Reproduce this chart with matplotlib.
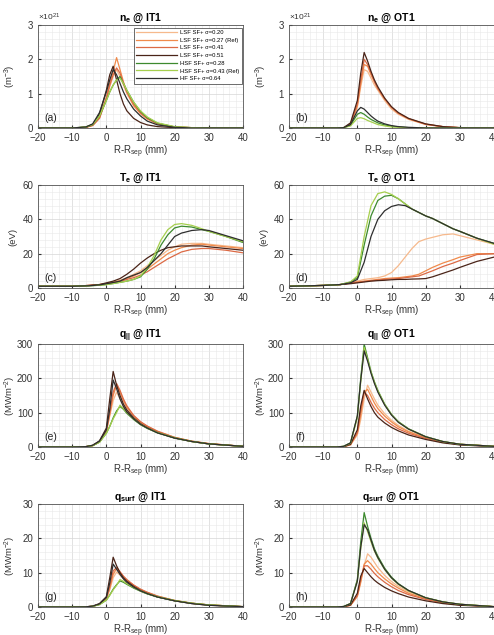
import matplotlib
matplotlib.use("Agg")
import matplotlib.pyplot as plt
from matplotlib.ticker import MultipleLocator

plt.rcParams['font.family'] = ['Liberation Sans', 'DejaVu Sans']
plt.rcParams['mathtext.fontset'] = 'custom'
plt.rcParams['mathtext.rm'] = 'Liberation Sans'
plt.rcParams['mathtext.it'] = 'Liberation Sans:italic'
plt.rcParams['mathtext.bf'] = 'Liberation Sans:bold'

# radial coordinate grids (mm)
x_peak = [-20, -10, -6, -4, -2, 0, 1, 2, 3, 4, 5, 6, 8, 10, 12, 15, 20, 25, 30, 40]
x_temp = [-20, -10, -5, -2, 0, 2, 4, 6, 8, 10, 12, 14, 16, 18, 20, 22, 25, 28, 30, 35, 40]

cases = ['LSF SF+ σ=0.20', 'LSF SF+ σ=0.27 (Ref)', 'LSF SF+ σ=0.41', 'LSF SF+ σ=0.51',
         'HSF SF+ σ=0.28', 'HSF SF+ σ=0.43 (Ref)', 'HF SF+ σ=0.64']
colors = ['#f6b98c', '#f08a4b', '#dc6a45', '#4a2418', '#3d8a2e', '#a6cf4e', '#2e2e2e']

# n_e (1e21 m^-3)
ne_it1 = [
    [0, 0, 0.02, 0.08, 0.30, 0.85, 1.20, 1.50, 1.70, 1.50, 1.25, 1.00, 0.65, 0.42, 0.27, 0.12, 0.03, 0.01, 0, 0],
    [0, 0, 0.02, 0.08, 0.30, 0.90, 1.30, 1.65, 2.05, 1.70, 1.35, 1.05, 0.65, 0.42, 0.26, 0.12, 0.03, 0.01, 0, 0],
    [0, 0, 0.02, 0.07, 0.28, 0.85, 1.25, 1.55, 1.75, 1.60, 1.30, 1.05, 0.70, 0.45, 0.28, 0.13, 0.03, 0.01, 0, 0],
    [0, 0, 0.02, 0.10, 0.40, 1.10, 1.55, 1.80, 1.40, 1.00, 0.70, 0.50, 0.28, 0.16, 0.09, 0.04, 0.01, 0, 0, 0],
    [0, 0, 0.03, 0.10, 0.35, 0.80, 1.05, 1.25, 1.40, 1.50, 1.30, 1.10, 0.75, 0.48, 0.30, 0.14, 0.03, 0.01, 0, 0],
    [0, 0, 0.03, 0.10, 0.35, 0.80, 1.05, 1.25, 1.40, 1.45, 1.30, 1.10, 0.75, 0.50, 0.32, 0.15, 0.04, 0.01, 0, 0],
    [0, 0, 0.03, 0.12, 0.45, 1.05, 1.40, 1.70, 1.55, 1.30, 1.05, 0.85, 0.55, 0.35, 0.20, 0.09, 0.02, 0, 0, 0],
]
ne_ot1 = [
    [0, 0, 0, 0.01, 0.10, 0.60, 1.20, 1.70, 1.65, 1.45, 1.25, 1.10, 0.80, 0.55, 0.40, 0.25, 0.10, 0.04, 0.01, 0],
    [0, 0, 0, 0.01, 0.10, 0.65, 1.30, 1.85, 1.80, 1.55, 1.35, 1.15, 0.85, 0.60, 0.43, 0.27, 0.11, 0.04, 0.01, 0],
    [0, 0, 0, 0.01, 0.12, 0.70, 1.40, 2.00, 1.85, 1.60, 1.35, 1.15, 0.85, 0.60, 0.43, 0.27, 0.11, 0.04, 0.01, 0],
    [0, 0, 0, 0.01, 0.15, 0.80, 1.60, 2.20, 1.95, 1.65, 1.40, 1.20, 0.87, 0.62, 0.45, 0.28, 0.12, 0.04, 0.01, 0],
    [0, 0, 0, 0.01, 0.08, 0.40, 0.45, 0.40, 0.32, 0.25, 0.20, 0.15, 0.09, 0.05, 0.03, 0.01, 0, 0, 0, 0],
    [0, 0, 0, 0.01, 0.06, 0.28, 0.30, 0.27, 0.22, 0.18, 0.14, 0.10, 0.06, 0.03, 0.02, 0.01, 0, 0, 0, 0],
    [0, 0, 0, 0.01, 0.10, 0.50, 0.60, 0.55, 0.45, 0.35, 0.27, 0.20, 0.12, 0.07, 0.04, 0.02, 0, 0, 0, 0],
]

# T_e (eV)
te_it1 = [
    [1, 1, 1.5, 2, 2.5, 3.5, 4.5, 6, 8, 10, 13, 16, 19, 22, 24, 25.5, 26, 26, 25.5, 24.5, 23.5],
    [1, 1, 1.5, 2, 2.5, 3.3, 4.2, 5.5, 7, 9, 11, 14, 17, 20, 22, 23.5, 25, 25.5, 25, 24, 23],
    [1, 1, 1.5, 2, 2.5, 3, 3.8, 5, 6, 7.5, 9.5, 12, 14.5, 17, 19, 21, 22.5, 23, 23, 22, 20.5],
    [1, 1, 1.5, 2, 3, 4, 5.5, 8, 11, 14.5, 17.5, 20, 22, 23.5, 24, 24.5, 24.5, 24.5, 24, 23, 22],
    [1, 1, 1.3, 1.6, 2, 2.6, 3.3, 4, 5, 6.5, 11, 17, 25, 31, 35, 36, 35.5, 34, 33, 30, 26.5],
    [1, 1, 1.3, 1.6, 2, 2.6, 3.3, 4, 5, 7, 12, 19, 28, 34, 37, 37.5, 36.5, 34.5, 33, 30, 27],
    [1, 1, 1.3, 1.8, 2.5, 3.2, 4, 6, 7.5, 9, 12, 16, 20, 25, 30, 32, 33.5, 34, 33.5, 30.5, 27.5],
]
te_ot1 = [
    [1, 1.5, 2, 3, 4, 5, 5.5, 6, 7, 9, 13, 18, 23, 27, 28.5, 29.5, 31, 31.5, 30.5, 28, 25.5],
    [1, 1.5, 2, 3, 3.5, 4, 4.5, 5, 5.5, 5.8, 6, 6.5, 7, 8, 10, 12, 14.5, 16.5, 18, 20, 20],
    [1, 1.5, 2, 2.8, 3.3, 3.8, 4.2, 4.6, 5, 5.3, 5.5, 6, 6.5, 7, 8.5, 10, 12.5, 14.5, 16, 19.5, 20],
    [1, 1.5, 2, 2.5, 3, 3.5, 4, 4.3, 4.5, 4.8, 5, 5, 5.2, 5.3, 5.5, 6.5, 8.5, 10.5, 12, 15.5, 18],
    [1, 1.5, 2, 3.5, 6, 25, 42, 51, 53.5, 54, 52, 49, 46, 44, 42, 40.5, 37.5, 34.5, 33, 29, 26],
    [1, 1.5, 2, 3.5, 7, 30, 48, 55, 56, 54.5, 52, 49, 46, 44, 42, 40.5, 37.5, 34.5, 33, 29, 25.5],
    [1, 1.5, 2, 3, 5, 15, 30, 40, 45, 47.5, 48.5, 48, 46, 44, 42, 40.5, 37.5, 34.5, 33, 29, 26],
]

# parallel heat flux (MW m^-2)
qpar_it1 = [
    [0, 0, 1, 4, 15, 45, 90, 135, 160, 140, 120, 105, 85, 70, 58, 43, 27, 16, 9, 2],
    [0, 0, 1, 4, 15, 45, 95, 150, 180, 160, 135, 115, 90, 72, 60, 45, 28, 17, 10, 2],
    [0, 0, 1, 4, 15, 48, 100, 160, 185, 165, 140, 120, 92, 74, 61, 46, 28, 17, 10, 2],
    [0, 0, 1, 5, 18, 55, 140, 220, 180, 150, 125, 108, 85, 68, 56, 42, 26, 16, 9, 2],
    [0, 0, 1, 4, 14, 40, 60, 85, 105, 118, 110, 98, 80, 65, 54, 41, 26, 16, 9, 2],
    [0, 0, 1, 4, 14, 40, 60, 82, 100, 122, 112, 100, 82, 66, 55, 42, 27, 16, 9, 2],
    [0, 0, 1, 5, 17, 50, 110, 195, 170, 140, 118, 102, 82, 66, 55, 41, 26, 16, 9, 2],
]
qpar_ot1 = [
    [0, 0, 0, 1, 6, 35, 80, 140, 180, 160, 140, 122, 97, 78, 63, 46, 28, 15, 8, 2],
    [0, 0, 0, 1, 7, 40, 95, 160, 168, 148, 128, 112, 90, 73, 59, 44, 27, 15, 8, 2],
    [0, 0, 0, 1, 7, 42, 105, 160, 150, 130, 113, 100, 80, 65, 53, 40, 25, 14, 7, 2],
    [0, 0, 0, 1, 8, 50, 120, 165, 140, 118, 100, 87, 70, 57, 47, 35, 22, 12, 6, 1],
    [0, 0, 0, 2, 12, 90, 200, 300, 260, 220, 190, 165, 125, 95, 74, 53, 30, 16, 8, 2],
    [0, 0, 0, 2, 11, 85, 190, 290, 255, 218, 188, 163, 124, 94, 73, 52, 30, 16, 8, 2],
    [0, 0, 0, 2, 12, 90, 195, 280, 250, 215, 185, 160, 122, 93, 72, 52, 30, 16, 8, 2],
]

# surface heat flux (MW m^-2)
qsurf_it1 = [
    [0, 0, 0.05, 0.2, 0.8, 2.3, 5, 8.5, 10.2, 9.3, 8.2, 7.3, 6, 4.9, 4, 3, 1.8, 1.1, 0.6, 0.1],
    [0, 0, 0.05, 0.2, 0.8, 2.4, 5.5, 9.5, 11.2, 10, 8.8, 7.8, 6.3, 5.1, 4.2, 3.1, 1.9, 1.1, 0.6, 0.1],
    [0, 0, 0.05, 0.2, 0.8, 2.5, 6, 10.5, 11.5, 10.3, 9, 8, 6.4, 5.2, 4.3, 3.2, 1.9, 1.1, 0.6, 0.1],
    [0, 0, 0.05, 0.25, 1, 3, 8.5, 14.5, 12, 10, 8.5, 7.5, 6, 4.8, 3.9, 2.9, 1.8, 1, 0.5, 0.1],
    [0, 0, 0.05, 0.2, 0.7, 2, 3.5, 5.2, 6.5, 7.6, 7.2, 6.6, 5.5, 4.6, 3.8, 2.9, 1.8, 1.1, 0.6, 0.1],
    [0, 0, 0.05, 0.2, 0.7, 2, 3.4, 5, 6.3, 8, 7.5, 6.8, 5.7, 4.7, 3.9, 3, 1.9, 1.1, 0.6, 0.1],
    [0, 0, 0.05, 0.25, 0.9, 2.8, 7, 12.5, 11, 9.5, 8.2, 7.2, 5.8, 4.7, 3.9, 2.9, 1.8, 1, 0.5, 0.1],
]
qsurf_ot1 = [
    [0, 0, 0, 0.1, 0.5, 3, 7, 12, 15.5, 14.5, 13, 11.5, 9.2, 7.4, 6, 4.4, 2.6, 1.5, 0.8, 0.1],
    [0, 0, 0, 0.1, 0.5, 3.2, 7.5, 12.5, 13.5, 12.5, 11.2, 10, 8.2, 6.7, 5.5, 4, 2.4, 1.4, 0.7, 0.1],
    [0, 0, 0, 0.1, 0.5, 3.3, 8, 12, 12, 11, 9.8, 8.8, 7.2, 5.9, 4.8, 3.6, 2.2, 1.2, 0.6, 0.1],
    [0, 0, 0, 0.1, 0.6, 4, 9, 11.2, 10, 8.8, 7.8, 7, 5.7, 4.7, 3.9, 2.9, 1.8, 1, 0.5, 0.1],
    [0, 0, 0, 0.15, 1, 8, 19, 27.5, 23.5, 20, 17, 14.8, 11.3, 8.7, 6.8, 4.8, 2.7, 1.5, 0.8, 0.1],
    [0, 0, 0, 0.15, 1, 7.5, 17, 24.5, 22, 19, 16.3, 14.2, 10.9, 8.4, 6.6, 4.7, 2.7, 1.5, 0.8, 0.1],
    [0, 0, 0, 0.15, 1, 7.5, 17.5, 24, 22.5, 19.5, 16.5, 14.4, 11, 8.5, 6.7, 4.8, 2.7, 1.5, 0.8, 0.1],
]

panels = [
    (ne_it1, x_peak, r'$\mathbf{n_e}$ @ IT1', r'(m$^{-3}$)', 3, 1, '(a)'),
    (ne_ot1, x_peak, r'$\mathbf{n_e}$ @ OT1', r'(m$^{-3}$)', 3, 1, '(b)'),
    (te_it1, x_temp, r'$\mathbf{T_e}$ @ IT1', '(eV)', 60, 20, '(c)'),
    (te_ot1, x_temp, r'$\mathbf{T_e}$ @ OT1', '(eV)', 60, 20, '(d)'),
    (qpar_it1, x_peak, r'$\mathbf{q_{||}}$ @ IT1', r'(MWm$^{-2}$)', 300, 100, '(e)'),
    (qpar_ot1, x_peak, r'$\mathbf{q_{||}}$ @ OT1', r'(MWm$^{-2}$)', 300, 100, '(f)'),
    (qsurf_it1, x_peak, r'$\mathbf{q_{surf}}$ @ IT1', r'(MWm$^{-2}$)', 30, 10, '(g)'),
    (qsurf_ot1, x_peak, r'$\mathbf{q_{surf}}$ @ OT1', r'(MWm$^{-2}$)', 30, 10, '(h)'),
]

W, H = 494, 635
fig = plt.figure(figsize=(W / 100, H / 100), dpi=100)
col_left = [38, 289]
row_top = [25, 185, 344, 504]
ax_w, ax_h = 205, 103
txt = '#333333'

for i, (series, xs, title, ylab, ymax, ystep, tag) in enumerate(panels):
    r, c = divmod(i, 2)
    ax = fig.add_axes([col_left[c] / W, 1 - (row_top[r] + ax_h) / H, ax_w / W, ax_h / H])
    for ys, col, lab in zip(series, colors, cases):
        ax.plot(xs, ys, color=col, lw=0.9, label=lab)
    ax.set_xlim(-20, 40)
    ax.set_ylim(0, ymax)
    ax.xaxis.set_major_locator(MultipleLocator(10))
    ax.xaxis.set_minor_locator(MultipleLocator(2))
    ax.yaxis.set_major_locator(MultipleLocator(ystep))
    ax.yaxis.set_minor_locator(MultipleLocator(ystep / 5))
    ax.grid(which='major', color='#d6d6d6', lw=0.5)
    ax.grid(which='minor', color='#e8e8e8', lw=0.4)
    ax.set_axisbelow(True)
    ax.tick_params(which='both', direction='in', labelsize=7, colors=txt, length=2)
    ax.tick_params(which='minor', length=0)
    for s in ax.spines.values():
        s.set_color('#555555')
        s.set_linewidth(0.6)
    ax.set_title(title, fontsize=7.5, fontweight='bold', pad=3)
    ax.set_xlabel(r'R-R$_{\mathrm{sep}}$ (mm)', fontsize=7, color=txt)
    ax.xaxis.set_label_coords(0.5, -0.15)
    ax.set_ylabel(ylab, fontsize=6.8, color=txt)
    ax.yaxis.set_label_coords(-0.1, 0.5)
    ax.text(0.03, 0.05, tag, transform=ax.transAxes, fontsize=7.5, color='#222222',
            ha='left', va='bottom')
    if r == 0:
        ax.text(0.0, 1.02, r'$\times10^{21}$', transform=ax.transAxes, fontsize=6,
                color=txt, ha='left', va='bottom')
    if i == 0:
        leg = ax.legend(loc='upper right', bbox_to_anchor=(0.995, 0.975), fontsize=4.2,
                        handlelength=7, labelspacing=0.45, borderpad=0.4, handletextpad=0.6,
                        fancybox=False, framealpha=1, borderaxespad=0)
        leg.get_frame().set_edgecolor('#333333')
        leg.get_frame().set_linewidth(0.5)

fig.savefig('out.png', dpi=100)
